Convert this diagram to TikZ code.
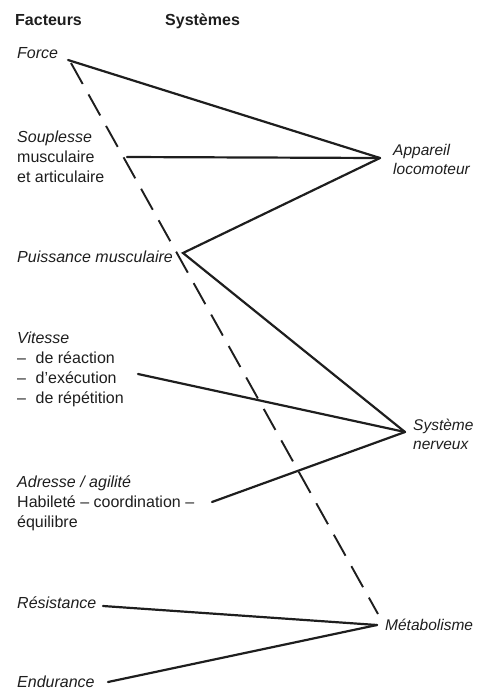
\documentclass[tikz,border=0pt]{standalone}
\usepackage{fontspec}
\setmainfont{Liberation Sans}
\usetikzlibrary{calc}
\definecolor{encre}{HTML}{1E1E1E}
\tikzset{
  titre/.style={anchor=base west, inner sep=0pt, font=\fontsize{16}{20}\selectfont\bfseries, text=encre},
  facteur/.style={anchor=base west, inner sep=0pt, align=left, font=\fontsize{16}{20}\selectfont, text=encre},
  systeme/.style={anchor=base west, inner sep=0pt, align=left, font=\fontsize{15.5}{19}\selectfont\itshape, text=encre},
  lien/.style={draw=encre, line width=2.2pt, line cap=round},
  lienpt/.style={draw=encre, line width=1.9pt, dash pattern=on 24pt off 12pt},
}
\begin{document}
\begin{tikzpicture}[x=1pt, y=-1pt]
        \useasboundingbox (0,0) rectangle (495,689);
        % en-tetes
        \node[titre] (hfact) at (15,25) {Facteurs};
        \node[titre] (hsyst) at (165,25) {Systèmes};
        % facteurs (base = derniere ligne)
        \node[facteur] (force) at (17,58) {\textit{Force}};
        \node[facteur] (souplesse) at (17,182) {\textit{Souplesse}\\ musculaire\\ et articulaire};
        \node[facteur] (puissance) at (17,262) {\textit{Puissance musculaire}};
        \node[facteur] (vitesse) at (17,403) {\textit{Vitesse}\\ –\hspace{0.6em}de réaction\\ –\hspace{0.6em}d’exécution\\ –\hspace{0.6em}de répétition};
        \node[facteur] (adresse) at (17,527) {\textit{Adresse / agilité}\\ Habileté – coordination –\\ équilibre};
        \node[facteur] (resistance) at (17,608) {\textit{Résistance}};
        \node[facteur] (endurance) at (17,687) {\textit{Endurance}};
        % systemes
        \node[systeme] (appareil) at (393,174) {Appareil\\ locomoteur};
        \node[systeme] (nerveux) at (413,449) {Système\\ nerveux};
        \node[systeme] (metabolisme) at (385,630) {Métabolisme};
        % points de raccord
        \coordinate (cloco) at (380,158);
        \coordinate (cnerv) at (405,432);
        \coordinate (cmeta) at (377,625);
        \coordinate (pforce) at (68,60);
        \coordinate (pforced) at (71,63);
        \coordinate (psoupl) at (127,157);
        \coordinate (ppuiss) at (183,253);
        \coordinate (pvit) at (138,374);
        \coordinate (padr) at (212,502);
        \coordinate (pres) at (103,606);
        \coordinate (pend) at (108,682);
        \coordinate (fmeta) at (378,614);
        % liaisons
        \draw[lienpt] (pforced) -- (fmeta);
        \draw[lien] (pforce) -- (cloco);
        \draw[lien] (psoupl) -- (cloco);
        \draw[lien, line join=miter] (cloco) -- (ppuiss) -- (cnerv);
        \draw[lien] (pvit) -- (cnerv);
        \draw[lien] (padr) -- (cnerv);
        \draw[lien] (pres) -- (cmeta);
        \draw[lien] (pend) -- (cmeta);
      \end{tikzpicture}
\end{document}
